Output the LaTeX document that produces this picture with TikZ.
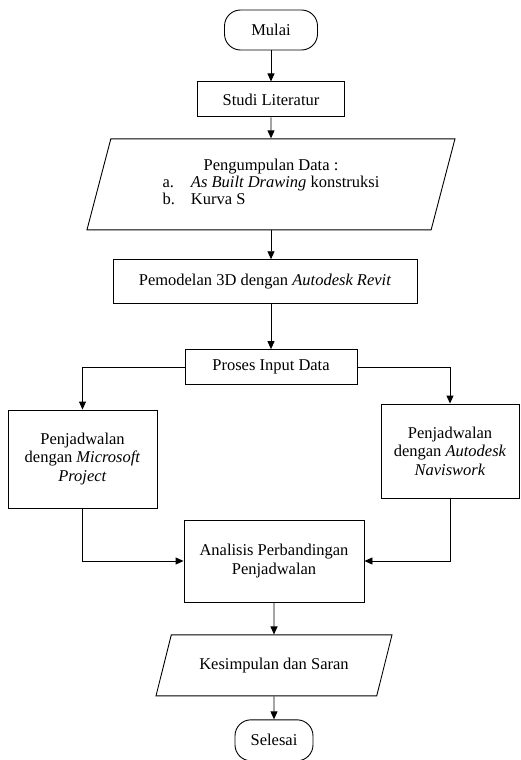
\documentclass[tikz,border=0pt]{standalone}
\usepackage{fontspec}
\setmainfont{Liberation Serif}
\usepackage{tikz}
\usetikzlibrary{positioning,arrows.meta,shapes.geometric}

\begin{document}
\begin{tikzpicture}[
    x=1pt, y=1pt,
    >={Triangle[length=8pt,width=7pt]},
    every node/.style={font=\fontsize{16.5}{18.5}\selectfont},
    term/.style={draw, line width=0.9pt, rounded corners=16pt, inner sep=2pt},
    pbox/.style={draw, line width=0.9pt, rectangle, inner sep=3pt, align=center},
    iobox/.style={draw, line width=0.9pt, trapezium, trapezium left angle=75,
                  trapezium right angle=105, trapezium stretches body,
                  inner xsep=2pt},
    arr/.style={->, line width=0.9pt},
]
\useasboundingbox (0,0) rectangle (521,-760);

% main column
\node[term, minimum width=93pt, minimum height=40pt] (mulai) at (271,-30) {Mulai};
\node[pbox, minimum width=147pt, minimum height=35pt,
      below=31pt of mulai] (studi) {Studi Literatur};
\node[iobox, minimum width=368pt, minimum height=91pt, inner ysep=19pt,
      font=\fontsize{16.5}{17}\selectfont, below=21pt of studi] (data) {%
  \begin{tabular}{@{}l@{\hspace{16pt}}l@{}}
    \multicolumn{2}{c}{Pengumpulan Data :}\\
    a. & \textit{As Built Drawing} konstruksi\\
    b. & Kurva S
  \end{tabular}};
\node[pbox, minimum width=304pt, minimum height=44pt,
      below=29pt of data, xshift=-6pt] (pemodel) {Pemodelan 3D dengan \textit{Autodesk Revit}};
\node[pbox, minimum width=172pt, minimum height=35pt,
      below=45pt of pemodel, xshift=6pt] (proses) {Proses Input Data};

% two schedules
\node[pbox, minimum width=149pt, minimum height=98pt] (msp) at (82.5,-459)
     {Penjadwalan\\dengan \textit{Microsoft}\\\textit{Project}};
\node[pbox, minimum width=138pt, minimum height=94pt] (navis) at (450,-451)
     {Penjadwalan\\dengan \textit{Autodesk}\\\textit{Naviswork}};

\node[pbox, minimum width=180pt, minimum height=82pt] (analisis) at (274,-561)
     {Analisis Perbandingan\\Penjadwalan};
\node[iobox, minimum width=236pt, minimum height=61pt, inner ysep=21pt,
      below=32pt of analisis] (kesimp) {Kesimpulan dan Saran};
\node[term, minimum width=78pt, minimum height=41pt,
      below=23pt of kesimp] (selesai) {Selesai};

\draw[arr] (mulai) -- (studi);
\draw[arr] (studi) -- (data);
\draw[arr] (data.south) -- (data.south |- pemodel.north);
\draw[arr] (proses.north |- pemodel.south) -- (proses.north);
\draw[arr] (proses.west) -| (msp.north);
\draw[arr] (proses.east) -| (navis.north);
\draw[arr] (msp.south) |- (analisis.west);
\draw[arr] (navis.south) |- (analisis.east);
\draw[arr] (analisis) -- (kesimp);
\draw[arr] (kesimp) -- (selesai);
\end{tikzpicture}
\end{document}
